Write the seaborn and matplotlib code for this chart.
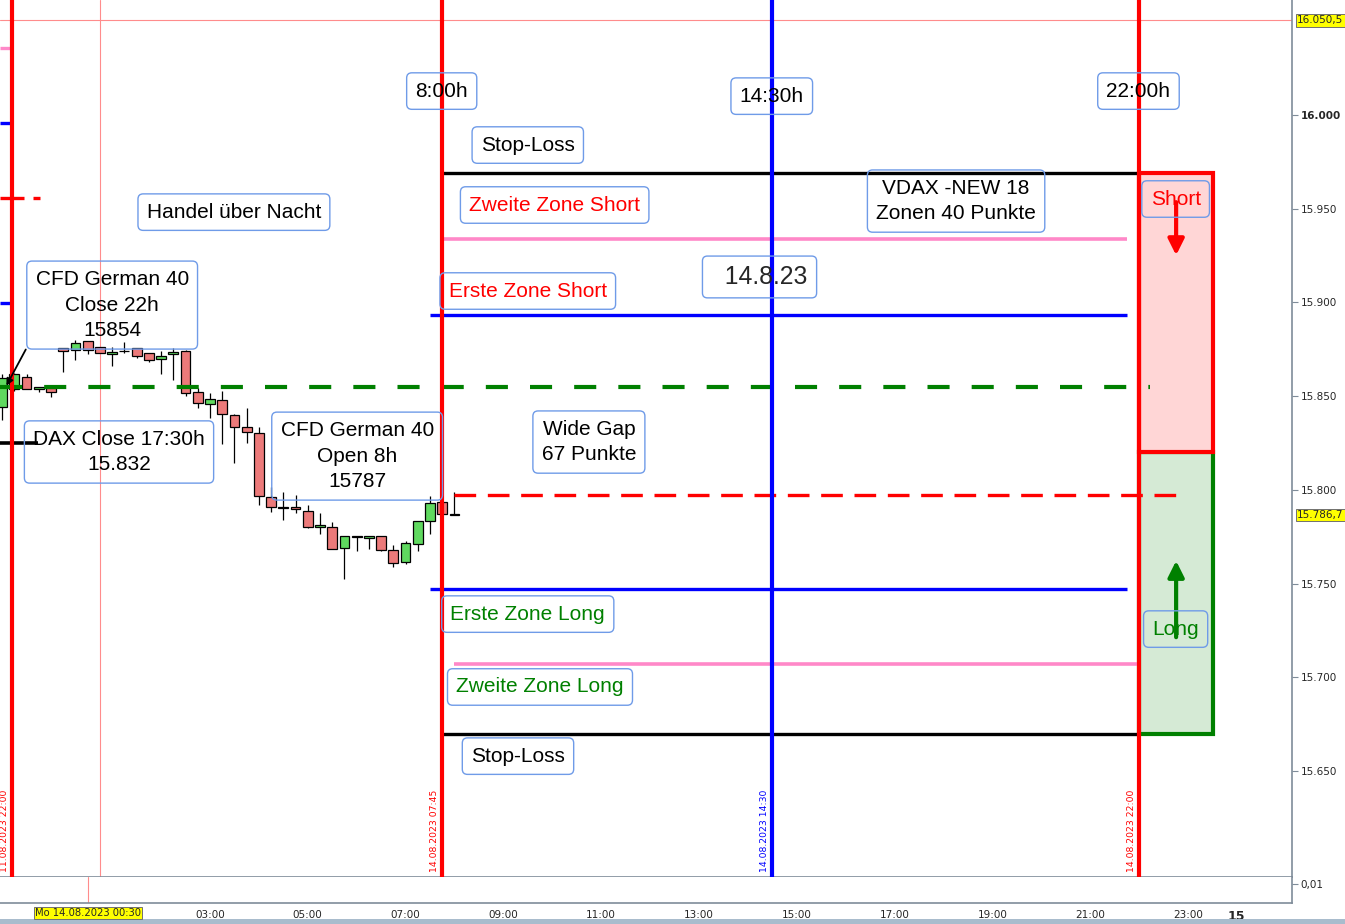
import matplotlib
matplotlib.use("Agg")
import matplotlib.pyplot as plt
import matplotlib.patches as mpatches
import numpy as np
import pandas as pd
import seaborn as sns

# 15-min candles, hours from Mo 14.08.2023 00:00 (first five are Friday's close)
candle_time = [-1.25, -1.0, -0.75, -0.5, -0.25, 0.0, 0.25, 0.5, 0.75, 1.0,
               1.25, 1.5, 1.75, 2.0, 2.25, 2.5, 2.75, 3.0, 3.25, 3.5,
               3.75, 4.0, 4.25, 4.5, 4.75, 5.0, 5.25, 5.5, 5.75, 6.0,
               6.25, 6.5, 6.75, 7.0, 7.25, 7.5, 7.75, 8.0]
opens = [15844.3, 15853.6, 15860.4, 15853.6, 15854.2, 15875.5, 15874.6, 15879.4, 15876.0, 15872.3,
         15874.0, 15875.5, 15872.8, 15869.8, 15872.3, 15874.1, 15852.4, 15845.6, 15847.8, 15839.8,
         15833.4, 15830.2, 15796.0, 15790.5, 15791.0, 15788.9, 15780.0, 15780.3, 15768.8, 15774.8,
         15774.1, 15775.2, 15767.7, 15761.3, 15770.9, 15783.2, 15793.3, 15786.7]
highs = [15862.0, 15862.5, 15861.6, 15854.7, 15855.6, 15875.5, 15879.9, 15879.4, 15876.0, 15876.0,
         15878.7, 15875.5, 15872.8, 15874.1, 15875.5, 15874.6, 15854.2, 15851.5, 15853.0, 15840.5,
         15843.5, 15833.4, 15801.7, 15799.0, 15797.2, 15791.9, 15787.5, 15783.0, 15775.5, 15774.8,
         15775.5, 15775.2, 15770.5, 15772.7, 15783.2, 15796.7, 15797.0, 15799.0]
lows = [15837.3, 15853.0, 15853.6, 15852.4, 15849.4, 15863.0, 15869.3, 15872.3, 15872.8, 15866.2,
        15872.8, 15870.2, 15868.0, 15861.6, 15858.6, 15850.2, 15843.5, 15838.5, 15824.3, 15814.5,
        15824.8, 15791.9, 15788.3, 15783.9, 15787.5, 15779.8, 15776.3, 15768.2, 15752.2, 15767.5,
        15768.2, 15767.3, 15758.6, 15760.2, 15767.5, 15776.3, 15786.9, 15786.7]
closes = [15859.5, 15861.6, 15853.6, 15854.7, 15852.0, 15874.1, 15878.2, 15874.6, 15872.8, 15873.4,
          15874.0, 15871.6, 15869.3, 15871.6, 15873.4, 15851.5, 15846.2, 15848.3, 15840.3, 15833.7,
          15830.7, 15796.7, 15790.7, 15790.5, 15789.6, 15780.3, 15781.1, 15768.2, 15775.5, 15774.8,
          15775.5, 15767.7, 15760.8, 15771.5, 15783.2, 15792.8, 15786.9, 15786.7]

# zone levels for 14.8.23
stop_short = 15969.3
zone2_short = 15933.8
zone1_short = 15893.3
close_22h = 15854.9
open_8h = 15797.2
zone1_long = 15747.1
zone2_long = 15706.8
stop_long = 15669.7
box_mid = 15820.2

# fragments of the previous day's levels at the left border
prev_levels = [16035.8, 15995.7, 15899.7]
prev_red = 15955.7
prev_black = 15825.0

price_ticks = [15650, 15700, 15750, 15800, 15850, 15900, 15950, 16000]
price_labels = ["15.650", "15.700", "15.750", "15.800", "15.850", "15.900", "15.950", "16.000"]
time_ticks = [3, 5, 7, 9, 11, 13, 15, 17, 19, 21, 23, 24]
time_labels = ["03:00", "05:00", "07:00", "09:00", "11:00", "13:00", "15:00",
               "17:00", "19:00", "21:00", "23:00", "15"]
cross_price = 16050.5
last_price = 15786.7

df = pd.DataFrame({"t": candle_time, "open": opens, "high": highs,
                   "low": lows, "close": closes})

sns.set_style("white")
plt.rcParams["font.family"] = ["Liberation Sans", "DejaVu Sans"]

W, H = 1345, 924
fig = plt.figure(figsize=(W / 100, H / 100), dpi=100)
ax = fig.add_axes([0, 1 - 877 / H, 1292 / W, 877 / H])
sub = fig.add_axes([0, 1 - 903 / H, 1292 / W, 26 / H], sharex=ax)

XMIN, XMAX = -1.294, 25.13
ax.set_xlim(XMIN, XMAX)
ax.set_ylim(15593.4, 16061.4)

# candles
up = df["close"] >= df["open"]
doji = (df["close"] - df["open"]).abs() < 0.3
body_h = (df["close"] - df["open"]).abs().clip(lower=0.35)
body_b = df[["open", "close"]].min(axis=1)
face = np.where(doji, "black", np.where(up, "#5fd95f", "#ec7a7a"))
ax.vlines(df["t"], df["low"], df["high"], color="black", lw=0.9, zorder=2)
ax.bar(df["t"], body_h, bottom=body_b, width=0.2, color=face,
       edgecolor="black", linewidth=0.9, zorder=2.5)

# crosshair
ax.axhline(cross_price, color="#ff8c8c", lw=0.8, zorder=1)
ax.axvline(0.75, color="#ff8c8c", lw=0.8, zorder=1)

# zone boxes on the right
ax.add_patch(mpatches.Rectangle((22.0, stop_long), 1.51, box_mid - stop_long,
                                facecolor="#d5ead5", edgecolor="#008000", lw=3, zorder=1.5))
ax.add_patch(mpatches.Rectangle((22.0, box_mid), 1.51, stop_short - box_mid,
                                facecolor="#ffd6d6", edgecolor="#ff0000", lw=3, zorder=1.6))

# level lines
ax.hlines(stop_short, 7.75, 22.0, color="black", lw=2.4, zorder=3)
ax.hlines(zone2_short, 7.75, 21.76, color="#ff88c8", lw=2.6, zorder=3)
ax.hlines(zone1_short, 7.5, 21.76, color="#0000ff", lw=2.4, zorder=3)
ax.hlines(close_22h, XMIN, 22.23, color="#008000", lw=3, linestyles=(0, (5.3, 5.3)), zorder=3)
ax.hlines(open_8h, 8.0, 22.76, color="#ff0000", lw=2.4, linestyles=(0, (6.5, 3.5)), zorder=3)
ax.hlines(zone1_long, 7.5, 21.76, color="#0000ff", lw=2.4, zorder=3)
ax.hlines(zone2_long, 8.0, 22.0, color="#ff88c8", lw=2.6, zorder=3)
ax.hlines(stop_long, 7.75, 22.0, color="black", lw=2.4, zorder=3)

ax.hlines(prev_levels, XMIN, -1.04, color=["#ff88c8", "#0000ff", "#0000ff"], lw=2.4, zorder=3)
ax.hlines([prev_red, prev_red], [XMIN, -0.62], [-0.80, -0.48], color="#ff0000", lw=2.4, zorder=3)
ax.hlines(prev_black, XMIN, -0.52, color="black", lw=2.6, zorder=3)

# session lines
for h, c in [(-1.04, "#ff0000"), (7.75, "#ff0000"), (14.5, "#0000ff"), (22.0, "#ff0000")]:
    ax.axvline(h, color=c, lw=3, zorder=3.5)
vlabels = [(-1.04, "11.08.2023 22:00", "#ff0000"), (7.75, "14.08.2023 07:45", "#ff0000"),
           (14.5, "14.08.2023 14:30", "#0000ff"), (22.0, "14.08.2023 22:00", "#ff0000")]
for h, s, c in vlabels:
    ax.text(h - 0.06, 15596, s, rotation=90, ha="right", va="bottom", color=c,
            fontsize=6.7, family="DejaVu Sans", zorder=4)

# arrows
ax.annotate("", xy=(22.76, 15923.7), xytext=(22.76, 15955),
            arrowprops=dict(arrowstyle="-|>", color="#ff0000", lw=3, mutation_scale=24), zorder=5)
ax.annotate("", xy=(22.76, 15763.6), xytext=(22.76, 15719.9),
            arrowprops=dict(arrowstyle="-|>", color="#008000", lw=3, mutation_scale=24), zorder=5)
ax.annotate("", xy=(-1.19, 15854.3), xytext=(-0.74, 15876.2),
            arrowprops=dict(arrowstyle="-|>", color="black", lw=1.3, mutation_scale=10), zorder=5)

# text boxes
box = dict(boxstyle="round,pad=0.42,rounding_size=0.25", fc="none", ec="#6f9be8", lw=1)
notes = [
    (7.74, 16012.8, "8:00h", "black"),
    (14.49, 16010.1, "14:30h", "black"),
    (21.99, 16012.8, "22:00h", "black"),
    (9.50, 15984.0, "Stop-Loss", "black"),
    (10.05, 15952.0, "Zweite Zone Short", "#ff0000"),
    (18.26, 15954.1, "VDAX -NEW 18\nZonen 40 Punkte", "black"),
    (3.49, 15948.2, "Handel über Nacht", "black"),
    (22.75, 15955.2, "Short", "#ff0000"),
    (9.50, 15906.1, "Erste Zone Short", "#ff0000"),
    (1.0, 15898.6, "CFD German 40\nClose 22h\n15854", "black"),
    (1.14, 15820.2, "DAX Close 17:30h\n15.832", "black"),
    (6.01, 15818.0, "CFD German 40\nOpen 8h\n15787", "black"),
    (10.75, 15825.5, "Wide Gap\n67 Punkte", "black"),
    (9.50, 15733.7, "Erste Zone Long", "#008000"),
    (22.75, 15725.7, "Long", "#008000"),
    (9.75, 15694.8, "Zweite Zone Long", "#008000"),
    (9.30, 15657.9, "Stop-Loss", "black"),
]
for x, y, s, c in notes:
    ax.text(x, y, s, ha="center", va="center", color=c, fontsize=15,
            linespacing=1.45, bbox=box, zorder=6)
ax.text(14.24, 15913.6, "  14.8.23", ha="center", va="center", fontsize=17.8,
        bbox=dict(boxstyle="round,pad=0.36,rounding_size=0.2", fc="none", ec="#6f9be8", lw=1),
        zorder=6)

# price axis on the right
frame = "#7f8c99"
for a in (ax, sub):
    for side in ("left", "top"):
        a.spines[side].set_visible(False)
    for side in ("right", "bottom"):
        a.spines[side].set_color(frame)
        a.spines[side].set_linewidth(1.2)
ax.yaxis.tick_right()
ax.set_yticks(price_ticks)
ax.set_yticklabels(price_labels)
ax.tick_params(axis="y", length=4, width=0.8, color=frame, pad=2, labelsize=7.5,
               labelfontfamily="DejaVu Sans")
ax.get_yticklabels()[-1].set_fontweight("bold")
ax.tick_params(axis="x", bottom=False, labelbottom=False)

ylab = dict(boxstyle="square,pad=0.12", fc="#ffff00", ec="#707070", lw=0.7)
for p, s in [(cross_price, "16.050,5"), (last_price, "15.786,7")]:
    ax.text(1.004, p, s, transform=ax.get_yaxis_transform(), ha="left", va="center",
            fontsize=7.5, family="DejaVu Sans", bbox=ylab, zorder=7, clip_on=False)

# lower panel
sub.set_ylim(0, 1)
sub.yaxis.tick_right()
sub.set_yticks([0.73])
sub.set_yticklabels(["0,01"])
sub.tick_params(axis="y", length=4, width=0.8, color=frame, pad=2, labelsize=7.5,
                labelfontfamily="DejaVu Sans")
sub.axvline(0.5, color="#ff8c8c", lw=0.8)
sub.set_xticks(time_ticks)
sub.set_xticklabels(time_labels)
sub.tick_params(axis="x", length=3, width=0.8, color=frame, pad=2, labelsize=7.5,
                labelfontfamily="DejaVu Sans")
last = sub.get_xticklabels()[-1]
last.set_fontweight("bold")
last.set_fontsize(9)

fig.text(88 / W, 1 - 913 / H, "Mo 14.08.2023 00:30", ha="center", va="center",
         fontsize=7.2, family="DejaVu Sans",
         bbox=dict(boxstyle="square,pad=0.12", fc="#ffff00", ec="#707070", lw=0.7))
fig.add_artist(mpatches.Rectangle((0, 0), 1, 5 / H, transform=fig.transFigure,
                                  fc="#a9bccd", ec="none"))

fig.savefig("out.png", dpi=100)
